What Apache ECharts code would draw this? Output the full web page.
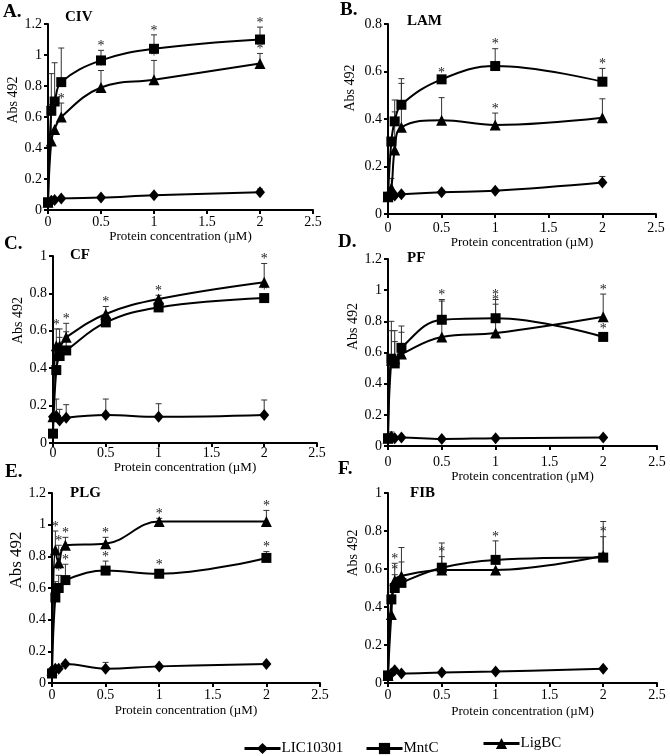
<!DOCTYPE html>
<html>
<head>
<meta charset="utf-8">
<script src="https://cdn.jsdelivr.net/npm/echarts@6/dist/echarts.min.js"></script>
<style>
html,body{margin:0;padding:0;background:#fff;}
#chart{width:670px;height:756px;}
</style>
</head>
<body>
<div id="chart"></div>
<script>
// ---------- data ----------
const conc = [0, 0.03125, 0.0625, 0.125, 0.5, 1, 2];   // Protein concentration (µM)
const seriesNames = ['LIC10301', 'MntC', 'LigBC'];
const panelLetters = ['A.', 'B.', 'C.', 'D.', 'E.', 'F.'];
const panelTitles = ['CIV', 'LAM', 'CF', 'PF', 'PLG', 'FIB'];
const yMaxes = [1.2, 0.8, 1.0, 1.2, 1.2, 1.0];
const xAxisName = 'Protein concentration (µM)';
const yAxisName = 'Abs 492';

// A. CIV
const civLIC = [0.05, 0.06, 0.065, 0.075, 0.08, 0.095, 0.115];
const civLICerr = [0, 0, 0, 0, 0, 0, 0.02];
const civLICsig = [0, 0, 0, 0, 0, 0, 0];
const civMnt = [0.05, 0.64, 0.70, 0.825, 0.965, 1.04, 1.10];
const civMnterr = [0, 0.24, 0.25, 0.22, 0.065, 0.09, 0.08];
const civMntsig = [0, 0, 0, 0, 1, 1, 1];
const civLig = [0.05, 0.445, 0.52, 0.60, 0.79, 0.84, 0.945];
const civLigerr = [0, 0.235, 0, 0.09, 0.11, 0.125, 0.065];
const civLigsig = [0, 0, 0, 1, 1, 1, 1];

// B. LAM
const lamLIC = [0.075, 0.075, 0.078, 0.083, 0.092, 0.098, 0.133];
const lamLICerr = [0, 0, 0, 0, 0, 0, 0.025];
const lamLICsig = [0, 0, 0, 0, 0, 0, 0];
const lamMnt = [0.073, 0.305, 0.39, 0.46, 0.567, 0.623, 0.557];
const lamMnterr = [0, 0, 0.09, 0.11, 0.01, 0.073, 0.056];
const lamMntsig = [0, 0, 0, 0, 1, 1, 1];
const lamLig = [0.073, 0.11, 0.27, 0.365, 0.395, 0.375, 0.405];
const lamLigerr = [0, 0.04, 0.16, 0.185, 0.095, 0.05, 0.08];
const lamLigsig = [0, 0, 0, 0, 0, 1, 0];

// C. CF
const cfLIC = [0.14, 0.145, 0.12, 0.135, 0.15, 0.14, 0.15];
const cfLICerr = [0, 0.09, 0.06, 0.07, 0.085, 0.07, 0.08];
const cfLICsig = [0, 0, 0, 0, 0, 0, 0];
const cfMnt = [0.05, 0.39, 0.465, 0.495, 0.645, 0.725, 0.775];
const cfMnterr = [0, 0.12, 0.10, 0.10, 0, 0, 0];
const cfMntsig = [0, 0, 0, 0, 0, 0, 1];
const cfLig = [0.14, 0.52, 0.52, 0.565, 0.69, 0.77, 0.86];
const cfLigerr = [0, 0.09, 0.09, 0.075, 0.04, 0.02, 0.10];
const cfLigsig = [0, 1, 0, 1, 1, 1, 1];

// D. PF
const pfLIC = [0.05, 0.06, 0.05, 0.055, 0.045, 0.05, 0.055];
const pfLICerr = [0, 0.03, 0, 0, 0, 0, 0];
const pfLICsig = [0, 0, 0, 0, 0, 0, 0];
const pfMnt = [0.05, 0.56, 0.53, 0.63, 0.81, 0.82, 0.70];
const pfMnterr = [0, 0.24, 0.21, 0.14, 0.13, 0.12, 0];
const pfMntsig = [0, 0, 0, 0, 1, 1, 1];
const pfLig = [0.05, 0.55, 0.56, 0.59, 0.70, 0.725, 0.83];
const pfLigerr = [0, 0.19, 0.11, 0.14, 0.23, 0.185, 0.145];
const pfLigsig = [0, 0, 0, 0, 0, 1, 1];

// E. PLG
const plgLIC = [0.08, 0.09, 0.09, 0.12, 0.09, 0.105, 0.12];
const plgLICerr = [0, 0, 0, 0, 0.04, 0, 0];
const plgLICsig = [0, 0, 0, 0, 0, 0, 0];
const plgMnt = [0.06, 0.54, 0.60, 0.65, 0.71, 0.69, 0.79];
const plgMnterr = [0, 0.10, 0.08, 0.10, 0.06, 0, 0.04];
const plgMntsig = [0, 0, 1, 1, 1, 1, 1];
const plgLig = [0.08, 0.84, 0.76, 0.87, 0.88, 1.02, 1.02];
const plgLigerr = [0, 0.12, 0.11, 0.05, 0.04, 0.02, 0.07];
const plgLigsig = [0, 1, 1, 1, 1, 1, 1];

// F. FIB
const fibLIC = [0.04, 0.05, 0.067, 0.05, 0.055, 0.06, 0.075];
const fibLICerr = [0, 0, 0, 0, 0, 0, 0];
const fibLICsig = [0, 0, 0, 0, 0, 0, 0];
const fibMnt = [0.04, 0.44, 0.50, 0.527, 0.607, 0.648, 0.66];
const fibMnterr = [0, 0, 0.07, 0.11, 0.13, 0.10, 0.19];
const fibMntsig = [0, 0, 1, 0, 0, 1, 0];
const fibLig = [0.04, 0.36, 0.54, 0.563, 0.595, 0.595, 0.67];
const fibLigerr = [0, 0, 0.09, 0.15, 0.07, 0, 0.10];
const fibLigsig = [0, 0, 1, 0, 1, 0, 1];

const panelData = [
  [[civLIC, civLICerr, civLICsig], [civMnt, civMnterr, civMntsig], [civLig, civLigerr, civLigsig]],
  [[lamLIC, lamLICerr, lamLICsig], [lamMnt, lamMnterr, lamMntsig], [lamLig, lamLigerr, lamLigsig]],
  [[cfLIC, cfLICerr, cfLICsig], [cfMnt, cfMnterr, cfMntsig], [cfLig, cfLigerr, cfLigsig]],
  [[pfLIC, pfLICerr, pfLICsig], [pfMnt, pfMnterr, pfMntsig], [pfLig, pfLigerr, pfLigsig]],
  [[plgLIC, plgLICerr, plgLICsig], [plgMnt, plgMnterr, plgMntsig], [plgLig, plgLigerr, plgLigsig]],
  [[fibLIC, fibLICerr, fibLICsig], [fibMnt, fibMnterr, fibMntsig], [fibLig, fibLigerr, fibLigsig]]
];

// ---------- layout / style ----------
const FONT = '"Liberation Serif", "Times New Roman", serif';
const layout = [
  {left: 48, top: 24, width: 265, height: 186, xm: 5, xg: 18, yg: 26, ys: 34, yfs: 14, lx: 3, ly: 13, tx: 65, ty: 18},
  {left: 388, top: 24, width: 268, height: 190, xm: 7, xg: 21, yg: 31, ys: 62, yfs: 14, lx: 340, ly: 11, tx: 407, ty: 22},
  {left: 53, top: 256, width: 264, height: 187, xm: 3, xg: 18, yg: 23, ys: 58, yfs: 14, lx: 4, ly: 245, tx: 70, ty: 256},
  {left: 388, top: 259, width: 269, height: 187, xm: 9, xg: 22, yg: 23, ys: 52, yfs: 14, lx: 338, ly: 243, tx: 407, ty: 259},
  {left: 52, top: 493, width: 268, height: 190, xm: 5, xg: 21, yg: 20, ys: 56, yfs: 17, lx: 5, ly: 473, tx: 70, ty: 494},
  {left: 388, top: 493, width: 269, height: 190, xm: 5, xg: 22, yg: 26, ys: 70, yfs: 14, lx: 338, ly: 470, tx: 410, ty: 494}
];
const symbols = ['diamond', 'rect', 'triangle'];
const symbolSizes = [[10, 12], 10, 11];

function renderErr(params, api) {
  const x = api.value(0), m = api.value(1), e = api.value(2), s = api.value(3);
  const p0 = api.coord([x, m]);
  const p1 = api.coord([x, m + e]);
  const children = [];
  if (e > 0) {
    children.push({type: 'line', shape: {x1: p0[0], y1: p0[1], x2: p1[0], y2: p1[1]}, style: {stroke: '#333', lineWidth: 1}});
    children.push({type: 'line', shape: {x1: p1[0] - 3, y1: p1[1], x2: p1[0] + 3, y2: p1[1]}, style: {stroke: '#333', lineWidth: 1}});
  }
  if (s) {
    const ty = e > 0 ? p1[1] - 4 : p0[1] - 8;
    children.push({type: 'text', x: p1[0], y: ty, style: {text: '*', font: '14px ' + FONT, align: 'center', verticalAlign: 'middle', fill: '#222'}});
  }
  return {type: 'group', children};
}

const grids = [], xAxes = [], yAxes = [], series = [], graphics = [];
layout.forEach((L, i) => {
  grids.push({left: L.left, top: L.top, width: L.width, height: L.height});
  xAxes.push({
    gridIndex: i, type: 'value', min: 0, max: 2.5, interval: 0.5,
    axisLine: {show: true, onZero: false, lineStyle: {color: '#000', width: 2}},
    axisTick: {show: true, length: 4, lineStyle: {color: '#000', width: 2}},
    axisLabel: {color: '#000', fontSize: 14, fontFamily: FONT, margin: L.xm},
    splitLine: {show: false},
    name: xAxisName, nameLocation: 'middle', nameGap: L.xg,
    nameTextStyle: {color: '#000', fontSize: 13, fontFamily: FONT}
  });
  yAxes.push({
    gridIndex: i, type: 'value', min: 0, max: yMaxes[i], interval: 0.2,
    axisLine: {show: true, onZero: false, lineStyle: {color: '#000', width: 2}},
    axisTick: {show: true, length: 4, lineStyle: {color: '#000', width: 2}},
    axisLabel: {color: '#000', fontSize: 14, fontFamily: FONT, margin: 6},
    splitLine: {show: false},
    name: yAxisName, nameLocation: 'middle', nameGap: L.yg,
    nameTextStyle: {color: '#000', fontSize: L.yfs, fontFamily: FONT, padding: [0, 0, 0, L.ys]}
  });
  panelData[i].forEach((d, k) => {
    const [vals, errs, sigs] = d;
    series.push({
      name: seriesNames[k] + ' SD', type: 'custom', xAxisIndex: i, yAxisIndex: i, z: 2,
      renderItem: renderErr, encode: {x: 0, y: 1}, silent: true,
      itemStyle: {color: '#000'},
      data: conc.map((c, j) => [c, vals[j], errs[j], sigs[j]])
    });
  });
  panelData[i].forEach((d, k) => {
    const vals = d[0];
    series.push({
      name: seriesNames[k], type: 'line', xAxisIndex: i, yAxisIndex: i, z: 3,
      smooth: 0.4, symbol: symbols[k], symbolSize: symbolSizes[k], showSymbol: true,
      color: '#000',
      lineStyle: {color: '#000', width: 2}, itemStyle: {color: '#000'},
      data: conc.map((c, j) => [c, vals[j]])
    });
  });
  graphics.push({type: 'text', left: L.lx, top: L.ly - 10, style: {text: panelLetters[i], font: 'bold 19px ' + FONT, fill: '#000'}});
  graphics.push({type: 'text', left: L.tx, top: L.ty - 8, style: {text: panelTitles[i], font: 'bold 15px ' + FONT, fill: '#000'}});
});

const legendBase = {itemWidth: 36, itemHeight: 14, itemGap: 0, selectedMode: false,
  lineStyle: {width: 3, color: '#000'},
  textStyle: {color: '#000', fontSize: 15, fontFamily: FONT, padding: [0, 0, 0, -4]}};
const option = {
  animation: false,
  backgroundColor: '#fff',
  color: ['#000'],
  grid: grids, xAxis: xAxes, yAxis: yAxes, series: series,
  graphic: graphics,
  legend: [
    Object.assign({}, legendBase, {data: [seriesNames[0]], left: 238, top: 736}),
    Object.assign({}, legendBase, {data: [seriesNames[1]], left: 360, top: 736}),
    Object.assign({}, legendBase, {data: [seriesNames[2]], left: 477, top: 731})
  ]
};
const chart = echarts.init(document.getElementById('chart'), null, {renderer: 'canvas'});
chart.setOption(option);
</script>
</body>
</html>
